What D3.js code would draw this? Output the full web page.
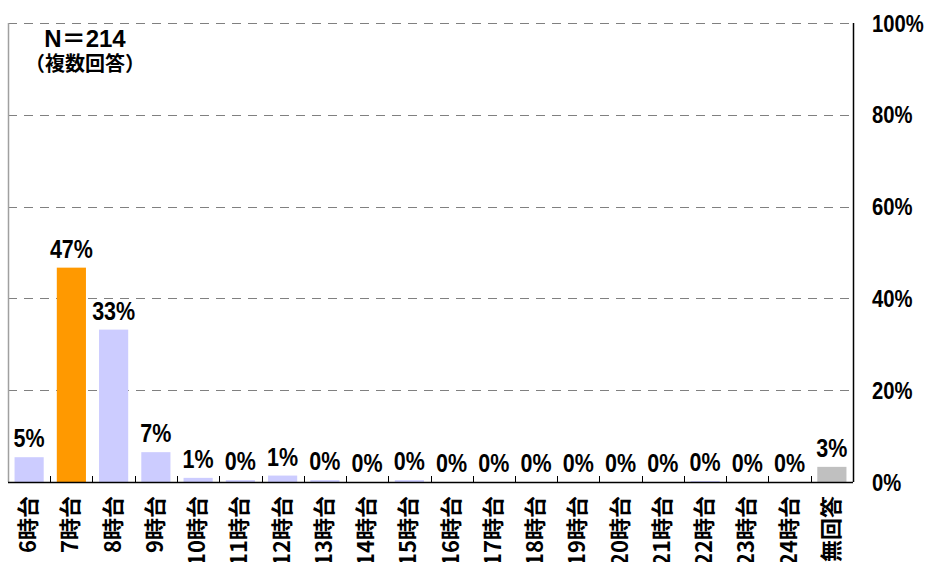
<!DOCTYPE html>
<html>
<head>
<meta charset="utf-8">
<script src="https://cdn.jsdelivr.net/npm/d3@7"></script>
<style>
  body { margin: 0; background: #fff; }
  text { font-family: "Liberation Sans", "Noto Sans CJK JP", sans-serif; }
</style>
</head>
<body>
<div id="chart"></div>
<script>
// categories and values (percent of N=214)
var categories = ["6時台","7時台","8時台","9時台","10時台","11時台","12時台","13時台","14時台","15時台",
                  "16時台","17時台","18時台","19時台","20時台","21時台","22時台","23時台","24時台","無回答"];
var values = [5.4, 46.7, 33.2, 6.5, 0.9, 0.4, 1.4, 0.4, 0, 0.4,
              0, 0, 0, 0, 0, 0, 0.2, 0, 0, 3.3];
var yTicks = [0, 20, 40, 60, 80, 100];
var noteLines = ["N＝214", "（複数回答）"];

var width = 931, height = 562;
var plotLeft = 8, plotRight = 853, plotTop = 23, plotBottom = 482;

var svg = d3.select("#chart").append("svg")
    .attr("width", width)
    .attr("height", height);

var x = d3.scaleBand()
    .domain(categories)
    .range([plotLeft, plotRight])
    .paddingInner(0.31)
    .paddingOuter(0.155);

var y = d3.scaleLinear()
    .domain([0, 100])
    .range([plotBottom, plotTop]);

// dashed grid lines
svg.append("g").selectAll("line")
    .data(yTicks.filter(function (d) { return d > 0; }))
    .enter().append("line")
    .attr("x1", plotLeft)
    .attr("x2", plotRight)
    .attr("y1", function (d) { return Math.round(y(d)) + 0.5; })
    .attr("y2", function (d) { return Math.round(y(d)) + 0.5; })
    .attr("stroke", "#808080")
    .attr("stroke-width", 1)
    .attr("stroke-dasharray", "9,7");

// left border (gray)
svg.append("line")
    .attr("x1", plotLeft + 0.5).attr("x2", plotLeft + 0.5)
    .attr("y1", plotTop).attr("y2", plotBottom)
    .attr("stroke", "#a0a0a0")
    .attr("stroke-width", 1.5);

// bars
svg.append("g").selectAll("rect")
    .data(values)
    .enter().append("rect")
    .attr("x", function (d, i) { return x(categories[i]); })
    .attr("width", x.bandwidth())
    .attr("y", function (d) { return y(d); })
    .attr("height", function (d) { return y(0) - y(d); })
    .attr("fill", function (d, i) {
        if (categories[i] == "無回答") return "#c0c0c0";
        if (d == d3.max(values)) return "#ff9900";
        return "#ccccff";
    });

// value labels
svg.append("g").selectAll("text")
    .data(values)
    .enter().append("text")
    .attr("transform", function (d, i) {
        return "translate(" + (x(categories[i]) + x.bandwidth() / 2) + "," + (y(d) - 10) + ") scale(0.86,1)";
    })
    .attr("text-anchor", "middle")
    .style("font-size", "25px")
    .style("font-weight", function (d) { return d >= 30 ? "bold" : "600"; })
    .attr("fill", "#000")
    .text(function (d) { return Math.round(d) + "%"; });

// x axis (ticks between bands, pointing up)
var step = x.step();
var bounds = categories.map(function (c) { return x(c) - x.paddingInner() * step / 2; }).slice(1);
svg.append("line")
    .attr("x1", plotLeft).attr("x2", plotRight)
    .attr("y1", plotBottom + 0.5).attr("y2", plotBottom + 0.5)
    .attr("stroke", "#000").attr("stroke-width", 1.5);
svg.append("g").selectAll("line")
    .data(bounds)
    .enter().append("line")
    .attr("x1", function (d) { return Math.round(d) + 0.5; })
    .attr("x2", function (d) { return Math.round(d) + 0.5; })
    .attr("y1", plotBottom)
    .attr("y2", plotBottom - 6)
    .attr("stroke", "#000");

svg.append("g").selectAll("text")
    .data(categories)
    .enter().append("text")
    .attr("transform", function (d) {
        return "translate(" + (x(d) + x.bandwidth() / 2 - 1) + "," + (plotBottom + 14) + ") rotate(-90)";
    })
    .attr("text-anchor", "end")
    .attr("dy", "0.36em")
    .style("font-family", "'Noto Sans CJK JP', sans-serif")
    .style("font-size", "22px")
    .style("font-weight", "bold")
    .text(function (d) { return d; });

// right y axis
var yAxis = svg.append("g")
    .attr("transform", "translate(" + plotRight + ",0)")
    .call(d3.axisRight(y).tickValues(yTicks).tickSize(0).tickPadding(0).tickFormat(function (d) { return d + "%"; }));
yAxis.select(".domain").attr("stroke", "#000").attr("stroke-width", 1.5).attr("d", "M0.5," + plotTop + "V" + plotBottom);
yAxis.selectAll("text")
    .attr("x", null)
    .attr("dy", null)
    .attr("transform", "translate(19,8) scale(0.88,1)")
    .style("font-family", "'Liberation Sans', sans-serif")
    .style("font-size", "23px")
    .style("font-weight", "bold")
    .attr("fill", "#000");

// note
svg.append("g").selectAll("text")
    .data(noteLines)
    .enter().append("text")
    .attr("x", 85)
    .attr("y", function (d, i) { return 47 + i * 24; })
    .attr("text-anchor", "middle")
    .style("font-size", function (d, i) { return i == 0 ? "24px" : "20px"; })
    .style("font-weight", "bold")
    .text(function (d) { return d; });
</script>
</body>
</html>
